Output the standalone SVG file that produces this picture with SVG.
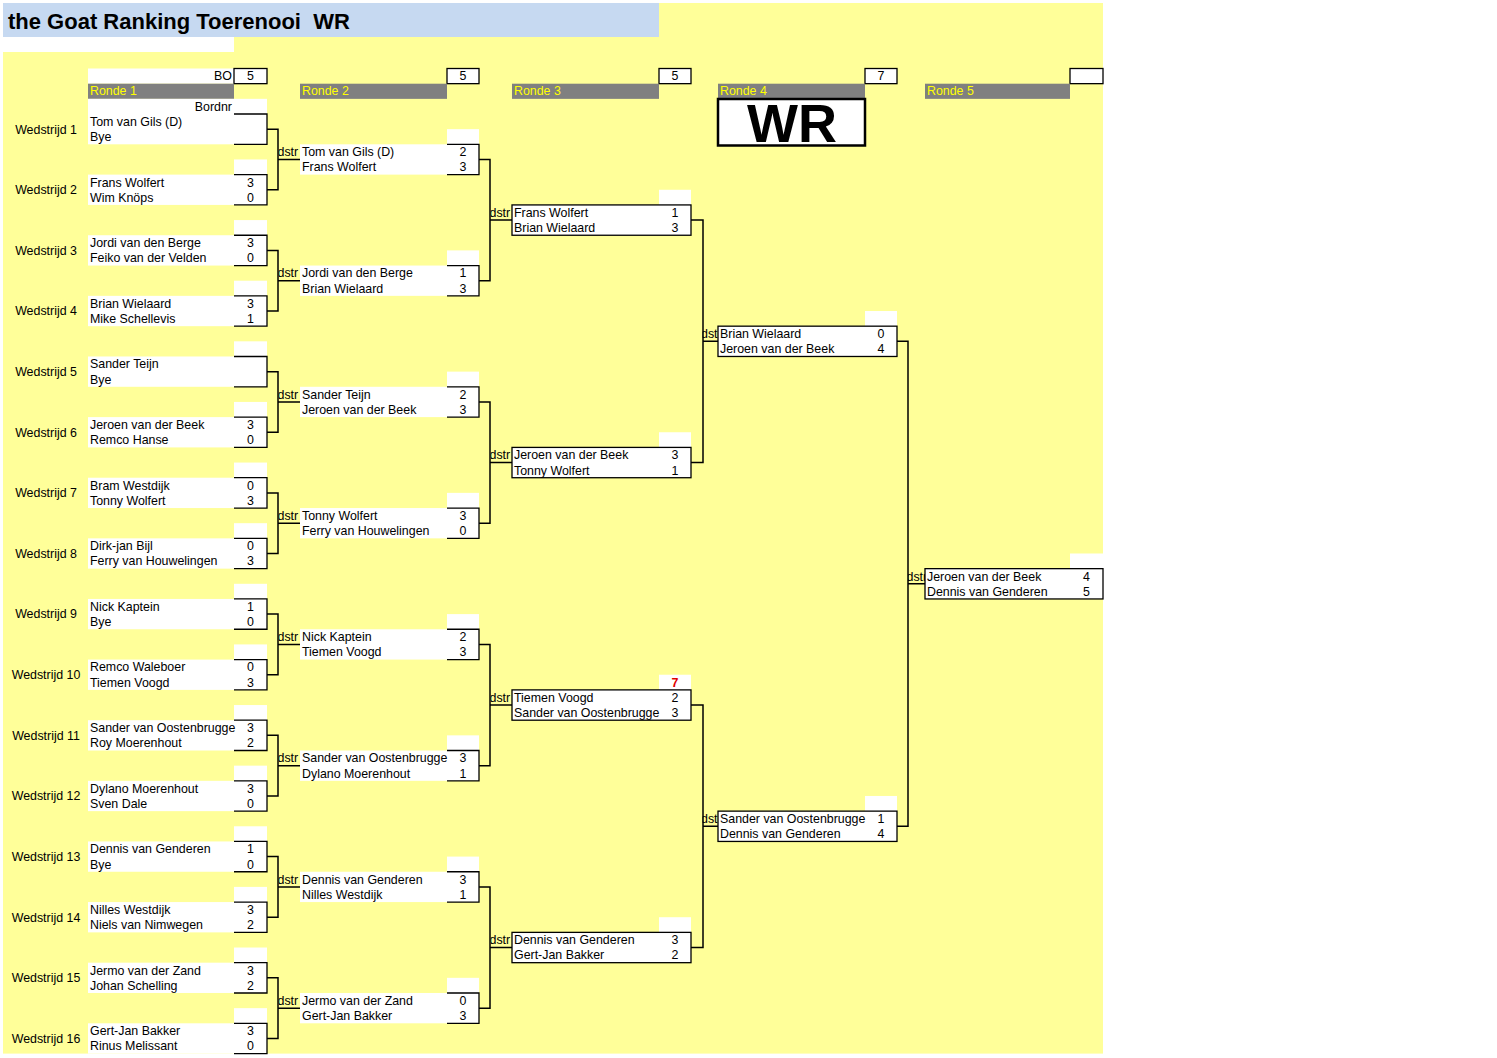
<svg xmlns="http://www.w3.org/2000/svg" width="1497" height="1058" viewBox="0 0 1497 1058">
<style>
.t{font-family:"Liberation Sans",Arial,sans-serif;font-size:12.4px;fill:#000}
.s{text-anchor:middle}
.w{fill:#fff}
.bk{fill:none;stroke:#000;stroke-width:1.3}
.bx{fill:#fff;stroke:#000;stroke-width:1.3}
.cn{fill:none;stroke:#000;stroke-width:1.5}
.rh{fill:#808080}
.ry{fill:#ffff00}
</style>
<defs>
<clipPath id="c2" clipPathUnits="userSpaceOnUse"><rect x="278.5" y="-2" width="21.5" height="17"/></clipPath>
<clipPath id="c3" clipPathUnits="userSpaceOnUse"><rect x="490.5" y="-2" width="21.5" height="17"/></clipPath>
<clipPath id="c4" clipPathUnits="userSpaceOnUse"><rect x="702.5" y="-2" width="15.5" height="17"/></clipPath>
<clipPath id="c5" clipPathUnits="userSpaceOnUse"><rect x="908" y="-2" width="17" height="17"/></clipPath>
</defs>
<rect width="1497" height="1058" fill="#fff"/>
<rect x="3" y="3" width="1100" height="1050.6" fill="#ffff99"/>
<g id="title">
<rect x="3" y="3" width="656" height="34" fill="#c6d9f1"/>
<rect x="3" y="37" width="231" height="15" fill="#fff"/>
<text x="8" y="28.5" xml:space="preserve" style="font-family:'Liberation Sans',Arial,sans-serif;font-size:22px;font-weight:bold;fill:#000">the Goat Ranking Toerenooi  WR</text>
</g>
<g id="headers">
<rect class="w" x="88" y="68.5" width="146" height="15.16"/>
<text class="t" x="232" y="80.4" text-anchor="end">BO</text>
<rect class="bx" x="234" y="68.5" width="33" height="15.16"/><text class="t s" x="250.5" y="80.4">5</text>
<rect class="rh" x="88" y="83.7" width="146" height="15.16"/><text class="t ry" x="90" y="95.4">Ronde 1</text>
<rect class="bx" x="447" y="68.5" width="32" height="15.16"/><text class="t s" x="463" y="80.4">5</text>
<rect class="rh" x="300" y="83.7" width="147" height="15.16"/><text class="t ry" x="302" y="95.4">Ronde 2</text>
<rect class="bx" x="659" y="68.5" width="32" height="15.16"/><text class="t s" x="675" y="80.4">5</text>
<rect class="rh" x="512" y="83.7" width="147" height="15.16"/><text class="t ry" x="514" y="95.4">Ronde 3</text>
<rect class="bx" x="865" y="68.5" width="32" height="15.16"/><text class="t s" x="881" y="80.4">7</text>
<rect class="rh" x="718" y="83.7" width="147" height="15.16"/><text class="t ry" x="720" y="95.4">Ronde 4</text>
<rect class="bx" x="1070" y="68.5" width="33" height="15.16"/>
<rect class="rh" x="925" y="83.7" width="145" height="15.16"/><text class="t ry" x="927" y="95.4">Ronde 5</text>
</g>
<g id="wr">
<rect x="718" y="99" width="147" height="46.5" fill="#fff" stroke="#000" stroke-width="2.5"/>
<text x="792" y="142" text-anchor="middle" style="font-family:'Liberation Sans',Arial,sans-serif;font-size:54px;font-weight:bold;fill:#000">WR</text>
</g>
<g id="connectors">
<path class="cn" d="M267,129.16H278V189.78H267M278,159.47H300"/>
<path class="cn" d="M267,250.40H278V311.02H267M278,280.71H300"/>
<path class="cn" d="M267,371.64H278V432.26H267M278,401.95H300"/>
<path class="cn" d="M267,492.88H278V553.50H267M278,523.19H300"/>
<path class="cn" d="M267,614.12H278V674.74H267M278,644.43H300"/>
<path class="cn" d="M267,735.36H278V795.98H267M278,765.67H300"/>
<path class="cn" d="M267,856.60H278V917.22H267M278,886.91H300"/>
<path class="cn" d="M267,977.84H278V1038.46H267M278,1008.15H300"/>
<path class="cn" d="M479,159.47H490V280.71H479M490,220.09H512"/>
<path class="cn" d="M479,401.95H490V523.19H479M490,462.57H512"/>
<path class="cn" d="M479,644.43H490V765.67H479M490,705.05H512"/>
<path class="cn" d="M479,886.91H490V1008.15H479M490,947.53H512"/>
<path class="cn" d="M691,220.09H703V462.57H691M703,341.33H718"/>
<path class="cn" d="M691,705.05H703V947.53H691M703,826.29H718"/>
<path class="cn" d="M897,341.33H908V826.29H897M908,583.81H925"/>
</g>
<g id="r1m1" transform="translate(0,114)">
<rect class="w" x="88" y="-15.16" width="179" height="15.16"/>
<text class="t" x="232" y="-3.3" text-anchor="end">Bordnr</text>
<rect class="w" x="88" y="0" width="179" height="30.31"/><path class="bk" d="M234,0H267V30.31H234"/>
<text class="t s" x="46" y="19.5">Wedstrijd 1</text>
<text class="t" x="90" y="11.9">Tom van Gils (D)</text><text class="t" x="90" y="27.1">Bye</text>
</g>
<g id="r1m2" transform="translate(0,174.62)">
<rect class="w" x="234" y="-15.16" width="33" height="15.16"/>
<rect class="w" x="88" y="0" width="179" height="30.31"/><path class="bk" d="M234,0H267V30.31H234"/>
<text class="t s" x="46" y="19.5">Wedstrijd 2</text>
<text class="t" x="90" y="11.9">Frans Wolfert</text><text class="t" x="90" y="27.1">Wim Knöps</text>
<text class="t s" x="250.5" y="11.9">3</text><text class="t s" x="250.5" y="27.1">0</text>
</g>
<g id="r1m3" transform="translate(0,235.24)">
<rect class="w" x="234" y="-15.16" width="33" height="15.16"/>
<rect class="w" x="88" y="0" width="179" height="30.31"/><path class="bk" d="M234,0H267V30.31H234"/>
<text class="t s" x="46" y="19.5">Wedstrijd 3</text>
<text class="t" x="90" y="11.9">Jordi van den Berge</text><text class="t" x="90" y="27.1">Feiko van der Velden</text>
<text class="t s" x="250.5" y="11.9">3</text><text class="t s" x="250.5" y="27.1">0</text>
</g>
<g id="r1m4" transform="translate(0,295.86)">
<rect class="w" x="234" y="-15.16" width="33" height="15.16"/>
<rect class="w" x="88" y="0" width="179" height="30.31"/><path class="bk" d="M234,0H267V30.31H234"/>
<text class="t s" x="46" y="19.5">Wedstrijd 4</text>
<text class="t" x="90" y="11.9">Brian Wielaard</text><text class="t" x="90" y="27.1">Mike Schellevis</text>
<text class="t s" x="250.5" y="11.9">3</text><text class="t s" x="250.5" y="27.1">1</text>
</g>
<g id="r1m5" transform="translate(0,356.48)">
<rect class="w" x="234" y="-15.16" width="33" height="15.16"/>
<rect class="w" x="88" y="0" width="179" height="30.31"/><path class="bk" d="M234,0H267V30.31H234"/>
<text class="t s" x="46" y="19.5">Wedstrijd 5</text>
<text class="t" x="90" y="11.9">Sander Teijn</text><text class="t" x="90" y="27.1">Bye</text>
</g>
<g id="r1m6" transform="translate(0,417.10)">
<rect class="w" x="234" y="-15.16" width="33" height="15.16"/>
<rect class="w" x="88" y="0" width="179" height="30.31"/><path class="bk" d="M234,0H267V30.31H234"/>
<text class="t s" x="46" y="19.5">Wedstrijd 6</text>
<text class="t" x="90" y="11.9">Jeroen van der Beek</text><text class="t" x="90" y="27.1">Remco Hanse</text>
<text class="t s" x="250.5" y="11.9">3</text><text class="t s" x="250.5" y="27.1">0</text>
</g>
<g id="r1m7" transform="translate(0,477.72)">
<rect class="w" x="234" y="-15.16" width="33" height="15.16"/>
<rect class="w" x="88" y="0" width="179" height="30.31"/><path class="bk" d="M234,0H267V30.31H234"/>
<text class="t s" x="46" y="19.5">Wedstrijd 7</text>
<text class="t" x="90" y="11.9">Bram Westdijk</text><text class="t" x="90" y="27.1">Tonny Wolfert</text>
<text class="t s" x="250.5" y="11.9">0</text><text class="t s" x="250.5" y="27.1">3</text>
</g>
<g id="r1m8" transform="translate(0,538.34)">
<rect class="w" x="234" y="-15.16" width="33" height="15.16"/>
<rect class="w" x="88" y="0" width="179" height="30.31"/><path class="bk" d="M234,0H267V30.31H234"/>
<text class="t s" x="46" y="19.5">Wedstrijd 8</text>
<text class="t" x="90" y="11.9">Dirk-jan Bijl</text><text class="t" x="90" y="27.1">Ferry van Houwelingen</text>
<text class="t s" x="250.5" y="11.9">0</text><text class="t s" x="250.5" y="27.1">3</text>
</g>
<g id="r1m9" transform="translate(0,598.96)">
<rect class="w" x="234" y="-15.16" width="33" height="15.16"/>
<rect class="w" x="88" y="0" width="179" height="30.31"/><path class="bk" d="M234,0H267V30.31H234"/>
<text class="t s" x="46" y="19.5">Wedstrijd 9</text>
<text class="t" x="90" y="11.9">Nick Kaptein</text><text class="t" x="90" y="27.1">Bye</text>
<text class="t s" x="250.5" y="11.9">1</text><text class="t s" x="250.5" y="27.1">0</text>
</g>
<g id="r1m10" transform="translate(0,659.58)">
<rect class="w" x="234" y="-15.16" width="33" height="15.16"/>
<rect class="w" x="88" y="0" width="179" height="30.31"/><path class="bk" d="M234,0H267V30.31H234"/>
<text class="t s" x="46" y="19.5">Wedstrijd 10</text>
<text class="t" x="90" y="11.9">Remco Waleboer</text><text class="t" x="90" y="27.1">Tiemen Voogd</text>
<text class="t s" x="250.5" y="11.9">0</text><text class="t s" x="250.5" y="27.1">3</text>
</g>
<g id="r1m11" transform="translate(0,720.20)">
<rect class="w" x="234" y="-15.16" width="33" height="15.16"/>
<rect class="w" x="88" y="0" width="179" height="30.31"/><path class="bk" d="M234,0H267V30.31H234"/>
<text class="t s" x="46" y="19.5">Wedstrijd 11</text>
<text class="t" x="90" y="11.9">Sander van Oostenbrugge</text><text class="t" x="90" y="27.1">Roy Moerenhout</text>
<text class="t s" x="250.5" y="11.9">3</text><text class="t s" x="250.5" y="27.1">2</text>
</g>
<g id="r1m12" transform="translate(0,780.82)">
<rect class="w" x="234" y="-15.16" width="33" height="15.16"/>
<rect class="w" x="88" y="0" width="179" height="30.31"/><path class="bk" d="M234,0H267V30.31H234"/>
<text class="t s" x="46" y="19.5">Wedstrijd 12</text>
<text class="t" x="90" y="11.9">Dylano Moerenhout</text><text class="t" x="90" y="27.1">Sven Dale</text>
<text class="t s" x="250.5" y="11.9">3</text><text class="t s" x="250.5" y="27.1">0</text>
</g>
<g id="r1m13" transform="translate(0,841.44)">
<rect class="w" x="234" y="-15.16" width="33" height="15.16"/>
<rect class="w" x="88" y="0" width="179" height="30.31"/><path class="bk" d="M234,0H267V30.31H234"/>
<text class="t s" x="46" y="19.5">Wedstrijd 13</text>
<text class="t" x="90" y="11.9">Dennis van Genderen</text><text class="t" x="90" y="27.1">Bye</text>
<text class="t s" x="250.5" y="11.9">1</text><text class="t s" x="250.5" y="27.1">0</text>
</g>
<g id="r1m14" transform="translate(0,902.06)">
<rect class="w" x="234" y="-15.16" width="33" height="15.16"/>
<rect class="w" x="88" y="0" width="179" height="30.31"/><path class="bk" d="M234,0H267V30.31H234"/>
<text class="t s" x="46" y="19.5">Wedstrijd 14</text>
<text class="t" x="90" y="11.9">Nilles Westdijk</text><text class="t" x="90" y="27.1">Niels van Nimwegen</text>
<text class="t s" x="250.5" y="11.9">3</text><text class="t s" x="250.5" y="27.1">2</text>
</g>
<g id="r1m15" transform="translate(0,962.68)">
<rect class="w" x="234" y="-15.16" width="33" height="15.16"/>
<rect class="w" x="88" y="0" width="179" height="30.31"/><path class="bk" d="M234,0H267V30.31H234"/>
<text class="t s" x="46" y="19.5">Wedstrijd 15</text>
<text class="t" x="90" y="11.9">Jermo van der Zand</text><text class="t" x="90" y="27.1">Johan Schelling</text>
<text class="t s" x="250.5" y="11.9">3</text><text class="t s" x="250.5" y="27.1">2</text>
</g>
<g id="r1m16" transform="translate(0,1023.30)">
<rect class="w" x="234" y="-15.16" width="33" height="15.16"/>
<rect class="w" x="88" y="0" width="179" height="30.31"/><path class="bk" d="M234,0H267V30.31H234"/>
<text class="t s" x="46" y="19.5">Wedstrijd 16</text>
<text class="t" x="90" y="11.9">Gert-Jan Bakker</text><text class="t" x="90" y="27.1">Rinus Melissant</text>
<text class="t s" x="250.5" y="11.9">3</text><text class="t s" x="250.5" y="27.1">0</text>
</g>
<g id="r2m1" transform="translate(0,144.31)">
<rect class="w" x="447" y="-15.16" width="32" height="15.16"/>
<rect class="w" x="300" y="0" width="179" height="30.31"/><path class="bk" d="M447,0H479V30.31H447"/>
<text class="t" x="277.5" y="11.9" clip-path="url(#c2)">dstr</text>
<text class="t" x="302" y="11.9">Tom van Gils (D)</text><text class="t" x="302" y="27.1">Frans Wolfert</text>
<text class="t s" x="463" y="11.9">2</text><text class="t s" x="463" y="27.1">3</text>
</g>
<g id="r2m2" transform="translate(0,265.55)">
<rect class="w" x="447" y="-15.16" width="32" height="15.16"/>
<rect class="w" x="300" y="0" width="179" height="30.31"/><path class="bk" d="M447,0H479V30.31H447"/>
<text class="t" x="277.5" y="11.9" clip-path="url(#c2)">dstr</text>
<text class="t" x="302" y="11.9">Jordi van den Berge</text><text class="t" x="302" y="27.1">Brian Wielaard</text>
<text class="t s" x="463" y="11.9">1</text><text class="t s" x="463" y="27.1">3</text>
</g>
<g id="r2m3" transform="translate(0,386.79)">
<rect class="w" x="447" y="-15.16" width="32" height="15.16"/>
<rect class="w" x="300" y="0" width="179" height="30.31"/><path class="bk" d="M447,0H479V30.31H447"/>
<text class="t" x="277.5" y="11.9" clip-path="url(#c2)">dstr</text>
<text class="t" x="302" y="11.9">Sander Teijn</text><text class="t" x="302" y="27.1">Jeroen van der Beek</text>
<text class="t s" x="463" y="11.9">2</text><text class="t s" x="463" y="27.1">3</text>
</g>
<g id="r2m4" transform="translate(0,508.03)">
<rect class="w" x="447" y="-15.16" width="32" height="15.16"/>
<rect class="w" x="300" y="0" width="179" height="30.31"/><path class="bk" d="M447,0H479V30.31H447"/>
<text class="t" x="277.5" y="11.9" clip-path="url(#c2)">dstr</text>
<text class="t" x="302" y="11.9">Tonny Wolfert</text><text class="t" x="302" y="27.1">Ferry van Houwelingen</text>
<text class="t s" x="463" y="11.9">3</text><text class="t s" x="463" y="27.1">0</text>
</g>
<g id="r2m5" transform="translate(0,629.27)">
<rect class="w" x="447" y="-15.16" width="32" height="15.16"/>
<rect class="w" x="300" y="0" width="179" height="30.31"/><path class="bk" d="M447,0H479V30.31H447"/>
<text class="t" x="277.5" y="11.9" clip-path="url(#c2)">dstr</text>
<text class="t" x="302" y="11.9">Nick Kaptein</text><text class="t" x="302" y="27.1">Tiemen Voogd</text>
<text class="t s" x="463" y="11.9">2</text><text class="t s" x="463" y="27.1">3</text>
</g>
<g id="r2m6" transform="translate(0,750.51)">
<rect class="w" x="447" y="-15.16" width="32" height="15.16"/>
<rect class="w" x="300" y="0" width="179" height="30.31"/><path class="bk" d="M447,0H479V30.31H447"/>
<text class="t" x="277.5" y="11.9" clip-path="url(#c2)">dstr</text>
<text class="t" x="302" y="11.9">Sander van Oostenbrugge</text><text class="t" x="302" y="27.1">Dylano Moerenhout</text>
<text class="t s" x="463" y="11.9">3</text><text class="t s" x="463" y="27.1">1</text>
</g>
<g id="r2m7" transform="translate(0,871.75)">
<rect class="w" x="447" y="-15.16" width="32" height="15.16"/>
<rect class="w" x="300" y="0" width="179" height="30.31"/><path class="bk" d="M447,0H479V30.31H447"/>
<text class="t" x="277.5" y="11.9" clip-path="url(#c2)">dstr</text>
<text class="t" x="302" y="11.9">Dennis van Genderen</text><text class="t" x="302" y="27.1">Nilles Westdijk</text>
<text class="t s" x="463" y="11.9">3</text><text class="t s" x="463" y="27.1">1</text>
</g>
<g id="r2m8" transform="translate(0,992.99)">
<rect class="w" x="447" y="-15.16" width="32" height="15.16"/>
<rect class="w" x="300" y="0" width="179" height="30.31"/><path class="bk" d="M447,0H479V30.31H447"/>
<text class="t" x="277.5" y="11.9" clip-path="url(#c2)">dstr</text>
<text class="t" x="302" y="11.9">Jermo van der Zand</text><text class="t" x="302" y="27.1">Gert-Jan Bakker</text>
<text class="t s" x="463" y="11.9">0</text><text class="t s" x="463" y="27.1">3</text>
</g>
<g id="r3m1" transform="translate(0,204.93)">
<rect class="w" x="659" y="-15.16" width="32" height="15.16"/>
<rect class="bx" x="512" y="0" width="179" height="30.31"/>
<text class="t" x="489.5" y="11.9" clip-path="url(#c3)">dstr</text>
<text class="t" x="514" y="11.9">Frans Wolfert</text><text class="t" x="514" y="27.1">Brian Wielaard</text>
<text class="t s" x="675" y="11.9">1</text><text class="t s" x="675" y="27.1">3</text>
</g>
<g id="r3m2" transform="translate(0,447.41)">
<rect class="w" x="659" y="-15.16" width="32" height="15.16"/>
<rect class="bx" x="512" y="0" width="179" height="30.31"/>
<text class="t" x="489.5" y="11.9" clip-path="url(#c3)">dstr</text>
<text class="t" x="514" y="11.9">Jeroen van der Beek</text><text class="t" x="514" y="27.1">Tonny Wolfert</text>
<text class="t s" x="675" y="11.9">3</text><text class="t s" x="675" y="27.1">1</text>
</g>
<g id="r3m3" transform="translate(0,689.89)">
<rect class="w" x="659" y="-15.16" width="32" height="15.16"/>
<text class="t s" x="675" y="-3.3" style="fill:#e00000;font-weight:bold">7</text>
<rect class="bx" x="512" y="0" width="179" height="30.31"/>
<text class="t" x="489.5" y="11.9" clip-path="url(#c3)">dstr</text>
<text class="t" x="514" y="11.9">Tiemen Voogd</text><text class="t" x="514" y="27.1">Sander van Oostenbrugge</text>
<text class="t s" x="675" y="11.9">2</text><text class="t s" x="675" y="27.1">3</text>
</g>
<g id="r3m4" transform="translate(0,932.37)">
<rect class="w" x="659" y="-15.16" width="32" height="15.16"/>
<rect class="bx" x="512" y="0" width="179" height="30.31"/>
<text class="t" x="489.5" y="11.9" clip-path="url(#c3)">dstr</text>
<text class="t" x="514" y="11.9">Dennis van Genderen</text><text class="t" x="514" y="27.1">Gert-Jan Bakker</text>
<text class="t s" x="675" y="11.9">3</text><text class="t s" x="675" y="27.1">2</text>
</g>
<g id="r4m1" transform="translate(0,326.17)">
<rect class="w" x="865" y="-15.16" width="32" height="15.16"/>
<rect class="bx" x="718" y="0" width="179" height="30.31"/>
<text class="t" x="701" y="11.9" clip-path="url(#c4)">dstr</text>
<text class="t" x="720" y="11.9">Brian Wielaard</text><text class="t" x="720" y="27.1">Jeroen van der Beek</text>
<text class="t s" x="881" y="11.9">0</text><text class="t s" x="881" y="27.1">4</text>
</g>
<g id="r4m2" transform="translate(0,811.13)">
<rect class="w" x="865" y="-15.16" width="32" height="15.16"/>
<rect class="bx" x="718" y="0" width="179" height="30.31"/>
<text class="t" x="701" y="11.9" clip-path="url(#c4)">dstr</text>
<text class="t" x="720" y="11.9">Sander van Oostenbrugge</text><text class="t" x="720" y="27.1">Dennis van Genderen</text>
<text class="t s" x="881" y="11.9">1</text><text class="t s" x="881" y="27.1">4</text>
</g>
<g id="r5m1" transform="translate(0,568.65)">
<rect class="w" x="1070" y="-15.16" width="33" height="15.16"/>
<rect class="bx" x="925" y="0" width="178" height="30.31"/>
<text class="t" x="906.5" y="11.9" clip-path="url(#c5)">dstr</text>
<text class="t" x="927" y="11.9">Jeroen van der Beek</text><text class="t" x="927" y="27.1">Dennis van Genderen</text>
<text class="t s" x="1086.5" y="11.9">4</text><text class="t s" x="1086.5" y="27.1">5</text>
</g>
</svg>
